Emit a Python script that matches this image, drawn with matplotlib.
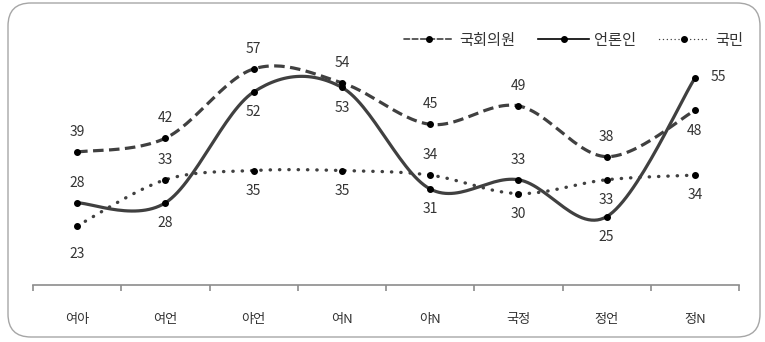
import matplotlib
matplotlib.use("Agg")
import matplotlib.pyplot as plt
import numpy as np
from matplotlib.patches import FancyBboxPatch

plt.rcParams['font.family'] = ['Noto Sans CJK KR', 'DejaVu Sans']

categories = ['여아', '여언', '야언', '여N', '야N', '국정', '정언', '정N']
series_names = ['국회의원', '언론인', '국민']
assembly = [39, 42, 57, 54, 45, 49, 38, 48]
press = [28, 28, 52, 53, 31, 33, 25, 55]
public = [23, 33, 35, 35, 34, 30, 33, 34]
# label placement: a=above, b=below, B=further below, r=right
pos_assembly = ['a', 'a', 'a', 'a', 'a', 'a', 'a', 'b']
pos_press = ['a', 'b', 'b', 'b', 'b', 'a', 'b', 'r']
pos_public = ['B', 'a', 'b', 'b', 'a', 'b', 'b', 'b']


def smooth(x, y, n=30):
    x = np.asarray(x, float); y = np.asarray(y, float)
    P = np.column_stack([x, y])
    Pp = np.vstack([P[0], P, P[-1]])
    out = []
    for i in range(len(P) - 1):
        p0, p1, p2, p3 = Pp[i], Pp[i + 1], Pp[i + 2], Pp[i + 3]
        c1 = p1 + (p2 - p0) / 6.0
        c2 = p2 - (p3 - p1) / 6.0
        t = np.linspace(0, 1, n)[:, None]
        seg = ((1 - t) ** 3) * p1 + 3 * ((1 - t) ** 2) * t * c1 + 3 * (1 - t) * t ** 2 * c2 + t ** 3 * p2
        if i > 0:
            seg = seg[1:]
        out.append(seg)
    out = np.vstack(out)
    return out[:, 0], out[:, 1]


W, H = 765, 342
fig = plt.figure(figsize=(W / 100, H / 100), dpi=100)
fig.patch.set_facecolor('white')

# rounded border
border = FancyBboxPatch((8 / W, 5 / H), (752 / W), (334 / H),
                        boxstyle="round,pad=0,rounding_size=0.03",
                        transform=fig.transFigure, facecolor='none',
                        edgecolor='#a6a6a6', lw=1.0, mutation_aspect=W / H, zorder=-5)
fig.patches.append(border)

ax = fig.add_axes([33 / W, 1 - 285 / H, (739 - 33) / W, (285 - 20) / H])
ax.set_facecolor('none')
ax.set_zorder(2)
x = np.arange(len(categories))
ax.set_xlim(-0.5, len(categories) - 0.5)
ax.set_ylim(10.2, 67.6)

col = '#404040'
styles = [
    dict(ls=(0, (3.3, 1.7)), lw=2.3),
    dict(ls='-', lw=2.3),
    dict(ls=(0, (0.1, 2.7)), lw=2.4, dash_capstyle='round'),
]
data = [assembly, press, public]
poss = [pos_assembly, pos_press, pos_public]
handles = []
for vals, st, name in zip(data, styles, series_names):
    sx, sy = smooth(x, vals)
    ax.plot(sx, sy, color=col, solid_capstyle='round', **st)
    ax.plot(x, vals, 'o', color='black', ms=4, zorder=5)
    h, = ax.plot([], [], color=col if st['ls'] != '-' else 'black', marker='o', ms=4,
                 mfc='black', mec='black', ls=st['ls'], lw=1.2 if st['ls'] != (0, (0.1, 2.7)) else 1.0,
                 dash_capstyle='round', label=name)
    handles.append(h)

for vals, ps in zip(data, poss):
    for xi, v, p in zip(x, vals, ps):
        if p == 'a':
            off = (0, 14.5)
        elif p == 'b':
            off = (0, -14.5)
        elif p == 'B':
            off = (0, -20)
        else:
            off = (17, 1)
        ax.annotate(str(v), (xi, v), xytext=off, textcoords='offset points',
                    ha='center', va='center', fontsize=10, color='#333333')

for s in ['top', 'right', 'left']:
    ax.spines[s].set_visible(False)
ax.spines['bottom'].set_color('#8c8c8c')
ax.spines['bottom'].set_linewidth(1.2)
ax.set_yticks([])
ax.set_xticks(np.arange(-0.5, len(categories), 1.0))
ax.set_xticklabels([])
ax.set_xticks(x, minor=True)
ax.set_xticklabels(categories, minor=True)
ax.tick_params(axis='x', which='major', length=4, color='#8c8c8c', width=1.2, direction='out')
ax.tick_params(axis='x', which='minor', length=0, pad=20, labelsize=9.5, labelcolor='#333333')

leg = fig.legend(handles=handles, loc='center right', bbox_to_anchor=(752 / W, 1 - 40 / H),
                 ncol=3, frameon=False, fontsize=11, handlelength=3.3, handletextpad=0.35,
                 columnspacing=1.5, borderaxespad=0.2)
for t in leg.get_texts():
    t.set_color('#333333')

fig.savefig('out.png', dpi=100, facecolor='white')
